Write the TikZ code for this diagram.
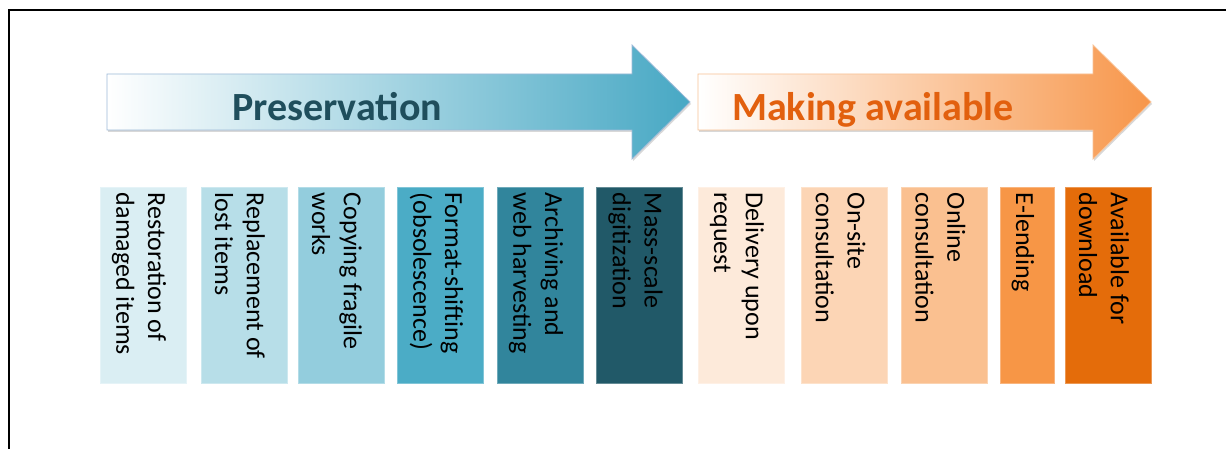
\documentclass[tikz,border=0pt]{standalone}
\usepackage{fontspec}
\newfontfamily\carlito{Carlito}
\usetikzlibrary{shadows}
\definecolor{c1}{HTML}{DAEEF3}
\definecolor{c2}{HTML}{B7DEE8}
\definecolor{c3}{HTML}{93CDDD}
\definecolor{c4}{HTML}{4BACC6}
\definecolor{c5}{HTML}{31859C}
\definecolor{c6}{HTML}{215968}
\definecolor{c7}{HTML}{FDEADA}
\definecolor{c8}{HTML}{FCD5B5}
\definecolor{c9}{HTML}{FAC090}
\definecolor{c10}{HTML}{F79646}
\definecolor{c11}{HTML}{E46C0A}
\definecolor{presText}{HTML}{1F4E5C}
\definecolor{makText}{HTML}{E2600E}
\definecolor{presLine}{HTML}{9DBAD8}
\definecolor{makLine}{HTML}{F9C295}
\definecolor{presEnd}{HTML}{47A8C4}
\definecolor{makEnd}{HTML}{F7964A}
\tikzset{
  box/.style={fill=#1, draw=#1!70!white, line width=0.6pt, minimum width=86pt, minimum height=196pt, inner sep=0pt},
  btext/.style={rotate=-90, anchor=west, align=left, inner sep=0pt, text=black,
    font=\carlito\fontsize{26}{31.7}\selectfont},
  atext/.style={anchor=base west, inner sep=0pt, font=\carlito\bfseries\fontsize{40}{48}\selectfont},
  arrowshadow/.style={drop shadow={shadow xshift=1pt, shadow yshift=-2pt, opacity=0.25, fill=black!60}}
}
\begin{document}
\begin{tikzpicture}[x=1pt,y=-1pt]
\useasboundingbox (0,0) rectangle (1226,449);
\fill[white] (0,0) rectangle (1226,449);
\draw[line width=2pt] (8.7,449) -- (8.7,10) -- (1226,10);

% arrows
\shade[left color=white, right color=presEnd, draw=presLine, line width=0.8pt, arrowshadow]
  (107,74) -- (632,74) -- (632,45) -- (690,102) -- (632,159) -- (632,130) -- (107,130) -- cycle;
\shade[left color=white, right color=makEnd, draw=makLine, line width=0.8pt, arrowshadow]
  (698,74) -- (1093,74) -- (1093,45) -- (1151,102) -- (1093,159) -- (1093,130) -- (698,130) -- cycle;
\node[atext, text=presText] (pres) at (232,121) {Preservation};
\node[atext, text=makText] (mak) at (732,121) {Making available};

% boxes
\node[box=c1] (b1) at (143,285) {};
\node[box=c2] (b2) at (244,285) {};
\node[box=c3] (b3) at (341,285) {};
\node[box=c4] (b4) at (440.5,285) {};
\node[box=c5] (b5) at (540,285) {};
\node[box=c6] (b6) at (639.5,285) {};
\node[box=c7] (b7) at (741,285) {};
\node[box=c8] (b8) at (844.5,285) {};
\node[box=c9] (b9) at (944.5,285) {};
\node[box=c10, minimum width=54pt] (b10) at (1027,285) {};
\node[box=c11] (b11) at (1108,285) {};

\node[btext] (t1) at ([xshift=-4pt,yshift=-6pt]b1.north) {Restoration of\\damaged items};
\node[btext] (t2) at ([xshift=-4pt,yshift=-6pt]b2.north) {Replacement of\\lost items};
\node[btext] (t3) at ([xshift=-4pt,yshift=-6pt]b3.north) {Copying fragile\\works};
\node[btext] (t4) at ([xshift=-4pt,yshift=-6pt]b4.north) {Format-shifting\\(obsolescence)};
\node[btext] (t5) at ([xshift=-4pt,yshift=-6pt]b5.north) {Archiving and\\web harvesting};
\node[btext] (t6) at ([xshift=-4pt,yshift=-6pt]b6.north) {Mass-scale\\digitization};
\node[btext] (t7) at ([xshift=-4pt,yshift=-6pt]b7.north) {Delivery upon\\request};
\node[btext] (t8) at ([xshift=-4pt,yshift=-6pt]b8.north) {On-site\\consultation};
\node[btext] (t9) at ([xshift=-4pt,yshift=-6pt]b9.north) {Online\\consultation};
\node[btext] (t10) at ([xshift=-4pt,yshift=-6pt]b10.north) {E-lending};
\node[btext] (t11) at ([xshift=-4pt,yshift=-6pt]b11.north) {Available for\\download};
\end{tikzpicture}
\end{document}
